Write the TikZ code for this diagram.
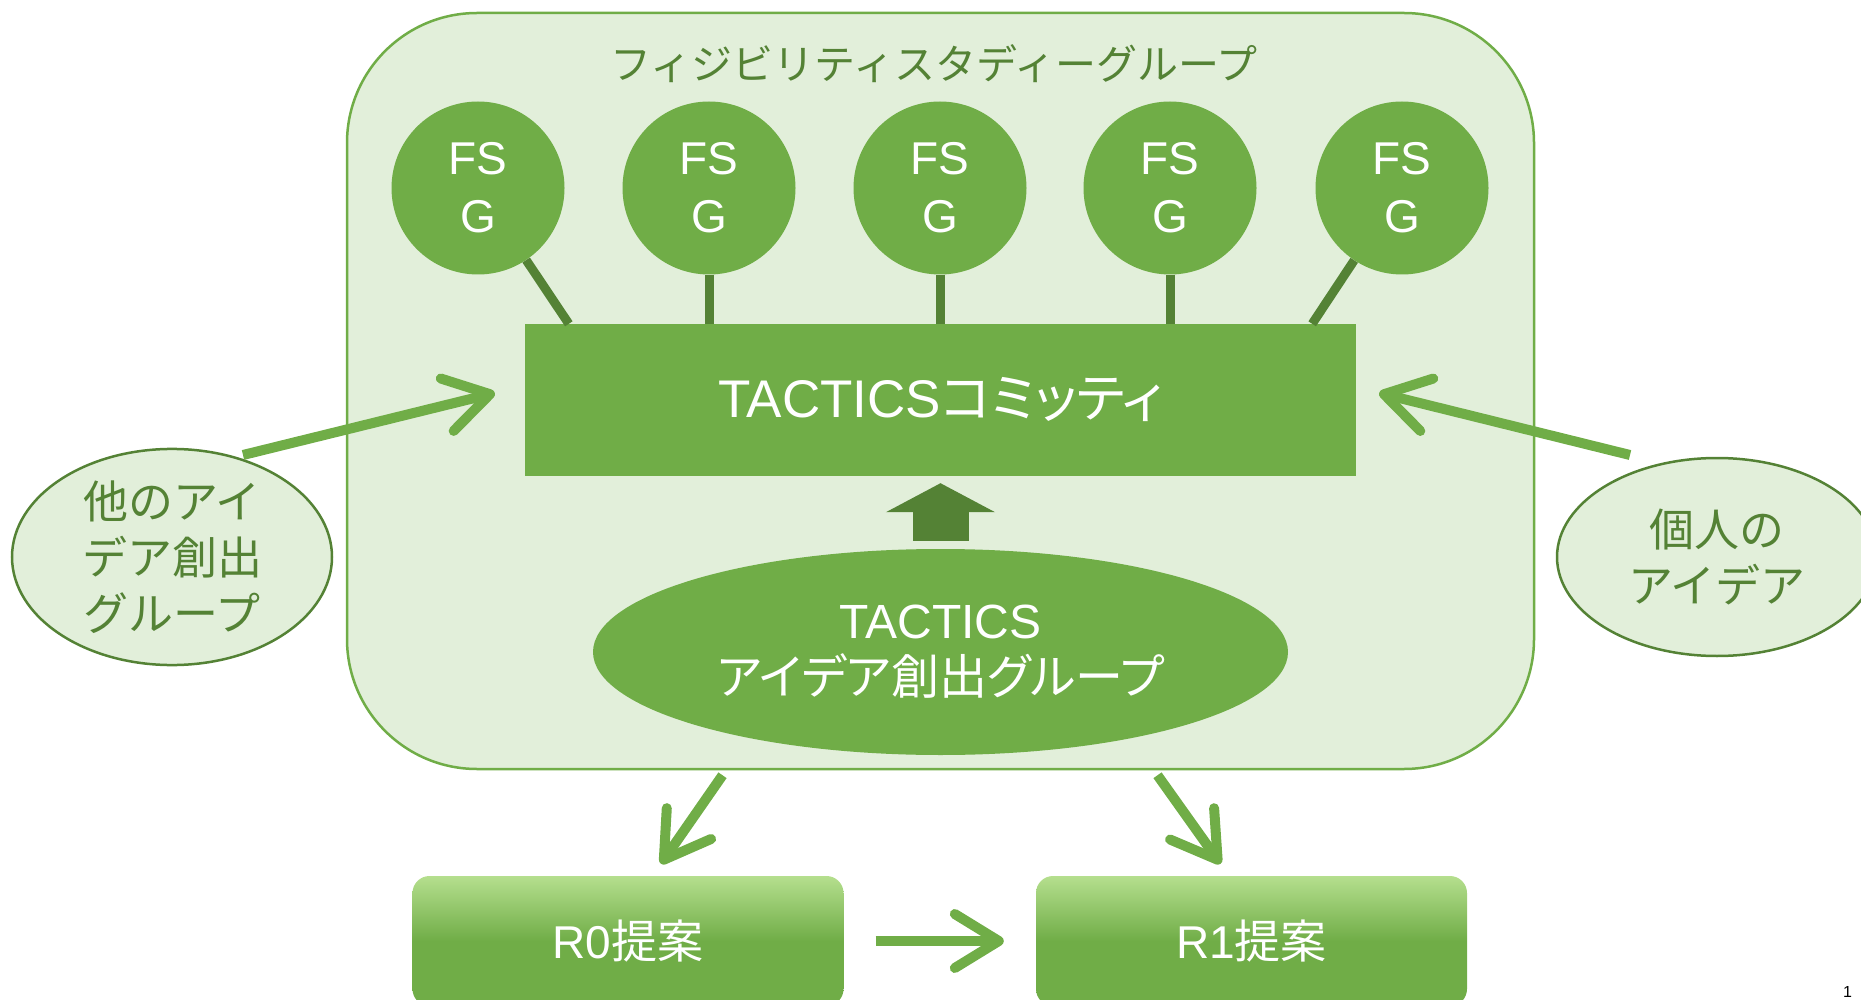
\documentclass[tikz,border=0pt]{standalone}
\usepackage{fontspec}
\setmainfont{Liberation Sans}
\newfontfamily\jp{Noto Sans CJK JP}
\newfontfamily\jpp[RawFeature=+palt]{Noto Sans CJK JP}
\usepackage{xcolor}
\usepackage{tikz}
\usetikzlibrary{arrows.meta,positioning,shapes.geometric}
\definecolor{fsgreen}{HTML}{70AD47}
\definecolor{fsdark}{HTML}{548235}
\definecolor{fslight}{HTML}{E2EFDA}
\definecolor{fstop}{HTML}{B5DF8E}

\begin{document}
\begin{tikzpicture}[x=1pt, y=-1pt, every node/.style={align=center, inner sep=0pt},
  fsgcircle/.style={circle, fill=fsgreen, text=white, minimum size=173pt, font=\fontsize{46}{58}\selectfont},
  stem/.style={draw=fsdark, line width=9pt},
  combox/.style={fill=fsgreen, text=white, minimum width=831pt, minimum height=152pt, font=\fontsize{53}{60}\selectfont},
  sidebubble/.style={ellipse, draw=fsdark, line width=2.5pt, fill=fslight, text=fsdark, minimum width=320pt, minimum height=198pt, font={\jp\fontsize{45}{56}\selectfont}},
  propbox/.style={rounded corners=17pt, top color=fstop, bottom color=fsgreen, middle color=fsgreen, text=white, minimum width=431pt, minimum height=130pt, font=\fontsize{46}{50}\selectfont},
  flowarrow/.style={draw=fsgreen, line width=10pt, -{Straight Barb[length=44pt,width=54pt,round]}},
  blockup/.style={draw=fsdark, line width=56pt, -{Triangle[length=29pt,width=108pt]}}]
\useasboundingbox (0,0) rectangle (1861,1000);
\node[draw=fsgreen, fill=fslight, line width=2.5pt, rounded corners=130pt, minimum width=1187pt, minimum height=756pt] (study) at (940.5,391) {};
\node[text=fsdark, font={\jp\fontsize{41}{44}\selectfont}] (title) at (934,64) {フィジビリティスタディーグループ};
\foreach \i/\x in {1/478,2/709,3/940,4/1170,5/1402}
  \node[fsgcircle] (fsg\i) at (\x,188) {FS\\G};
\node[combox] (com) at (940.5,400) {TACTICS{\jpp コミッティ}};
\draw[stem] (fsg1) -- ([xshift=44pt]com.north west);
\foreach \i in {2,3,4}
  \draw[stem] (fsg\i) -- (fsg\i |- com.north);
\draw[stem] (fsg5) -- ([xshift=-44pt]com.north east);
\node[ellipse, fill=fsgreen, text=white, minimum width=695pt, minimum height=206pt, font=\fontsize{48}{56}\selectfont] (idea) at (940.5,652) {TACTICS\\{\jpp アイデア創出グループ}};
\draw[blockup, shorten <=8pt, shorten >=7pt] (idea) -- (com);
\node[sidebubble] (other) at (172,557) {他のアイ\\デア創出\\グループ};
\node[sidebubble] (indiv) at (1717,557) {個人の\\アイデア};
\draw[flowarrow] ([xshift=71pt,yshift=102pt]other.center) -- ([xshift=-30pt,yshift=7pt]com.west);
\draw[flowarrow] ([xshift=-87pt,yshift=102pt]indiv.center) -- ([xshift=23pt,yshift=7pt]com.east);
\node[propbox] (r0) at (628,941) {R0{\jp 提案}};
\node[propbox] (r1) at (1251.5,941) {R1{\jp 提案}};
\draw[flowarrow] ([xshift=-218pt,yshift=-5pt]study.south) -- ([xshift=33pt,yshift=12pt]r0.north);
\draw[flowarrow] ([xshift=217pt,yshift=-5pt]study.south) -- ([xshift=-31pt,yshift=12pt]r1.north);
\draw[flowarrow, shorten <=32pt, shorten >=32pt] (r0) -- (r1);
\node[anchor=south west, font=\fontsize{16}{16}\selectfont] (pagenum) at (1843,998) {1};
\end{tikzpicture}
\end{document}
